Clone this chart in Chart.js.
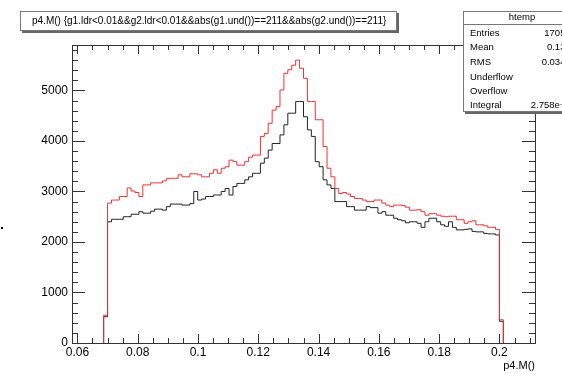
<!DOCTYPE html>
<html>
<head>
<meta charset="utf-8">
<script src="https://cdn.jsdelivr.net/npm/chart.js@4/dist/chart.umd.min.js"></script>
<style>
  html, body { margin: 0; padding: 0; background: #fff; }
  #box { width: 562px; height: 374px; }
</style>
</head>
<body>
<div id="box"><canvas id="histo"></canvas></div>
<script>
// histogram binning (lower edge of first bin, bin width)
const binLow = 0.0687;
const binWidth = 0.0013;

// second histogram (drawn "same", red)
const redCounts = [
  550, 2770, 2830, 2830, 2900, 2900, 3070, 3010, 2980, 2900, 3130,
  3130, 3170, 3170, 3170, 3210, 3260, 3260, 3260, 3330, 3290,
  3290, 3350, 3350, 3330, 3290, 3290, 3360, 3430, 3360, 3460,
  3490, 3620, 3590, 3520, 3520, 3590, 3680, 3720, 3720, 4090,
  4150, 4350, 4610, 4680, 5010, 5340, 5410, 5500, 5600, 5440,
  5240, 4780, 4780, 4420, 4420, 3890, 3460, 3290, 3060, 2960,
  2980, 2950, 2900, 2860, 2860, 2830, 2800, 2800, 2830, 2830,
  2770, 2730, 2700, 2730, 2730, 2720, 2690, 2630, 2630, 2640,
  2600, 2530, 2560, 2560, 2530, 2510, 2500, 2510, 2510, 2440,
  2440, 2370, 2400, 2420, 2340, 2340, 2320, 2290, 2290, 2250, 460
];

// htemp (black)
const blackCounts = [
  520, 2400, 2450, 2450, 2450, 2500, 2500, 2550, 2550, 2600, 2570,
  2570, 2610, 2650, 2650, 2630, 2700, 2750, 2750, 2750, 2730,
  2730, 2760, 3000, 2830, 2850, 2900, 2900, 2930, 2930, 3000,
  3060, 2930, 3100, 3160, 3160, 3230, 3290, 3360, 3360, 3560,
  3660, 3820, 3950, 3950, 4120, 4320, 4550, 4550, 4780, 4780,
  4480, 4220, 4090, 3590, 3490, 3230, 3130, 3060, 2800, 2800,
  2800, 2700, 2700, 2630, 2630, 2630, 2700, 2680, 2680, 2570,
  2600, 2530, 2530, 2470, 2440, 2420, 2380, 2400, 2400, 2370,
  2290, 2400, 2470, 2470, 2400, 2340, 2310, 2400, 2290, 2240,
  2240, 2250, 2260, 2210, 2200, 2200, 2170, 2160, 2160, 2140, 430
];

const xTicks = [0.06, 0.08, 0.1, 0.12, 0.14, 0.16, 0.18, 0.2];
const xTickLabels = ['0.06', '0.08', '0.1', '0.12', '0.14', '0.16', '0.18', '0.2'];
const yTicks = [0, 1000, 2000, 3000, 4000, 5000];
const yTickLabels = ['0', '1000', '2000', '3000', '4000', '5000'];

const titleText = 'p4.M() {g1.ldr<0.01&&g2.ldr<0.01&&abs(g1.und())==211&&abs(g2.und())==211}';
const xTitle = 'p4.M()';
const statsName = 'htemp';
const statsLabels = ['Entries', 'Mean', 'RMS', 'Underflow', 'Overflow', 'Integral'];
const statsValues = ['170526', '0.1322', '0.03401', '0', '0', '2.758e+05'];

// turn bin contents into points for a stepped outline
function toSteps(counts) {
    const pts = [{ x: binLow, y: 0 }];
    counts.forEach(function(c, i) {
        pts.push({ x: binLow + i * binWidth, y: c });
    });
    pts.push({ x: binLow + counts.length * binWidth, y: 0 });
    return pts;
}

// ROOT style frame, ticks on all four sides, title box and stats box
const rootDecor = {
    id: 'rootDecor',
    afterDraw(chart) {
        const ctx = chart.ctx;
        const a = chart.chartArea;
        const xs = chart.scales.x;
        const ys = chart.scales.y;
        ctx.save();
        ctx.strokeStyle = '#333';
        ctx.lineWidth = 1;
        ctx.strokeRect(Math.round(a.left) + 0.5, Math.round(a.top) + 0.5,
            Math.round(a.right - a.left), Math.round(a.bottom - a.top));

        ctx.beginPath();
        // x ticks: major every 0.02, minor every 0.005
        for (let i = 0; i <= 40; i++) {
            const v = 0.06 + i * 0.005;
            if (v < xs.min || v > xs.max) continue;
            const px = Math.round(xs.getPixelForValue(v)) + 0.5;
            const len = (i % 4 === 0) ? 9 : 5;
            ctx.moveTo(px, a.bottom); ctx.lineTo(px, a.bottom - len);
            ctx.moveTo(px, a.top); ctx.lineTo(px, a.top + len);
        }
        // y ticks: major every 1000, minor every 200
        for (let i = 0; i <= 30; i++) {
            const v = i * 200;
            if (v > ys.max) continue;
            const py = Math.round(ys.getPixelForValue(v)) + 0.5;
            const len = (i % 5 === 0) ? 13 : 6;
            ctx.moveTo(a.left, py); ctx.lineTo(a.left + len, py);
            ctx.moveTo(a.right, py); ctx.lineTo(a.right - len, py);
        }
        ctx.stroke();

        // x axis title
        ctx.fillStyle = '#000';
        ctx.font = '11px "Liberation Sans"';
        ctx.textAlign = 'right';
        ctx.textBaseline = 'middle';
        ctx.fillText(xTitle, a.right, 366);

        // y axis title (mostly off the pad)
        ctx.fillRect(1, 227, 2, 2);

        // title box with shadow
        ctx.fillStyle = '#666';
        ctx.fillRect(22, 13, 377, 20);
        ctx.fillStyle = '#fff';
        ctx.fillRect(20, 11, 377, 20);
        ctx.strokeStyle = '#777';
        ctx.strokeRect(20.5, 11.5, 376, 19);
        ctx.fillStyle = '#000';
        ctx.font = '10px "Liberation Sans"';
        ctx.textAlign = 'left';
        ctx.fillText(titleText, 32, 21.5);

        // stats box
        ctx.fillStyle = '#666';
        ctx.fillRect(465, 13, 120, 101);
        ctx.fillStyle = '#fff';
        ctx.fillRect(463, 11, 120, 101);
        ctx.strokeStyle = '#777';
        ctx.strokeRect(463.5, 11.5, 120, 100);
        ctx.beginPath();
        ctx.moveTo(463, 24.5); ctx.lineTo(562, 24.5);
        ctx.stroke();
        ctx.fillStyle = '#000';
        ctx.font = '9.5px "Liberation Sans"';
        ctx.textAlign = 'center';
        ctx.fillText(statsName, 522, 17.5);
        const rowY = [33, 47, 62, 77, 91, 105];
        statsLabels.forEach(function(lab, i) {
            ctx.textAlign = 'left';
            ctx.fillText(lab, 470, rowY[i]);
            ctx.textAlign = 'right';
            ctx.fillText(statsValues[i], 576, rowY[i]);
        });
        ctx.restore();
    }
};

Chart.defaults.font.family = '"Liberation Sans", Arial, sans-serif';
Chart.defaults.color = '#000';

new Chart(document.getElementById('histo'), {
    type: 'line',
    data: {
        datasets: [{
            label: 'red',
            data: toSteps(redCounts),
            borderColor: '#f03030',
            borderWidth: 1,
            pointRadius: 0,
            stepped: true,
            fill: false
        }, {
            label: 'htemp',
            data: toSteps(blackCounts),
            borderColor: '#222',
            borderWidth: 1,
            pointRadius: 0,
            stepped: true,
            fill: false
        }]
    },
    options: {
        responsive: true,
        maintainAspectRatio: false,
        animation: false,
        events: [],
        layout: { padding: { left: 0, right: 27, top: 45, bottom: 0 } },
        scales: {
            x: {
                type: 'linear',
                min: 0.0582,
                max: 0.2118,
                grid: { display: false, drawTicks: false },
                border: { display: false },
                afterBuildTicks: function(axis) {
                    axis.ticks = xTicks.map(function(v) { return { value: v }; });
                },
                afterFit: function(axis) { axis.height = 31; },
                ticks: {
                    padding: 2,
                    maxRotation: 0,
                    autoSkip: false,
                    font: { size: 12 },
                    callback: function(v) {
                        const i = xTicks.findIndex(function(t) { return Math.abs(t - v) < 1e-6; });
                        return i >= 0 ? xTickLabels[i] : '';
                    }
                }
            },
            y: {
                min: 0,
                max: 5900,
                grid: { display: false, drawTicks: false },
                border: { display: false },
                afterBuildTicks: function(axis) {
                    axis.ticks = yTicks.map(function(v) { return { value: v }; });
                },
                afterFit: function(axis) { axis.width = 72; },
                ticks: {
                    padding: 4,
                    autoSkip: false,
                    font: { size: 12 },
                    callback: function(v) {
                        const i = yTicks.indexOf(v);
                        return i >= 0 ? yTickLabels[i] : '';
                    }
                }
            }
        },
        plugins: {
            legend: { display: false },
            tooltip: { enabled: false }
        }
    },
    plugins: [rootDecor]
});
</script>
</body>
</html>
